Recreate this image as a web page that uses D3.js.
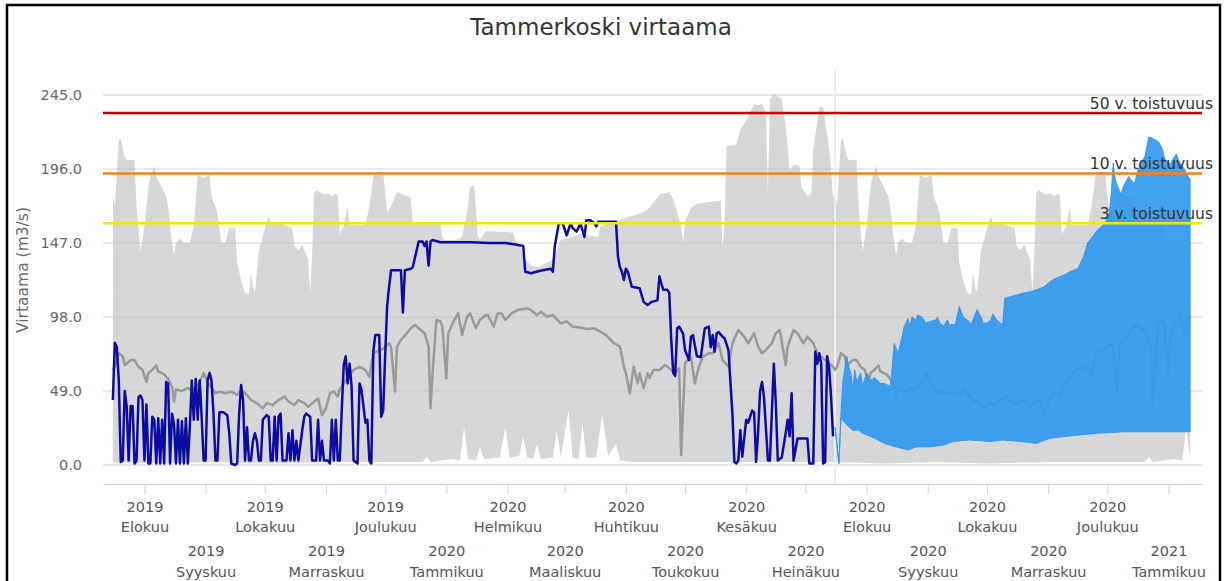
<!DOCTYPE html>
<html>
<head>
<meta charset="utf-8">
<script src="https://cdnjs.cloudflare.com/ajax/libs/d3/7.8.5/d3.min.js"></script>
<style>
  html, body { margin: 0; padding: 0; background: #fff; }
  svg { display: block; font-family: "DejaVu Sans", sans-serif; }
</style>
</head>
<body>
<div id="chart"></div>
<script>
// ---- data ----
const chartTitle = "Tammerkoski virtaama";
const yTitle = "Virtaama (m3/s)";
const yTicks = [0, 49, 98, 147, 196, 245];
const monthNames = ["Tammikuu", "Helmikuu", "Maaliskuu", "Huhtikuu", "Toukokuu", "Kesäkuu",
    "Heinäkuu", "Elokuu", "Syyskuu", "Lokakuu", "Marraskuu", "Joulukuu"];
const xStart = "2019-07-11", xEnd = "2021-01-18";
const firstTick = "2019-08-01", lastTick = "2021-01-01";
const todayDate = "2020-07-16";
const bandEnd = "2021-01-12";

const levelValues = [233, 193, 160];
const levelLabels = ["50 v. toistuvuus", "10 v. toistuvuus", "3 v. toistuvuus"];

// day-of-year statistics (month-day), repeated for each year shown
const climMax = [
    ["07-16",179],["07-17",172],["07-19",215],["07-20",216],["07-22",204],["07-23",202],["07-27",202],
    ["07-28",171],["07-30",141],["08-01",158],["08-03",184],["08-04",191],["08-06",198],["08-07",191],
    ["08-09",186],["08-12",178],["08-13",171],["08-15",147],["08-16",139],["08-17",147],["08-19",150],
    ["08-21",147],["08-24",147],["08-26",158],["08-28",192],["08-31",190],["09-03",192],["09-04",178],
    ["09-07",167],["09-09",147],["09-11",147],["09-13",157],["09-16",157],["09-17",134],["09-19",122],
    ["09-21",114],["09-23",113],["09-24",127],["09-25",118],["09-26",114],["09-28",142],["10-01",156],
    ["10-03",165],["10-04",160],["10-06",161],["10-15",157],["10-16",145],["10-18",142],["10-20",146],
    ["10-21",142],["10-23",136],["10-24",114],["10-25",140],["10-26",180],["10-27",182],["10-31",179],
    ["11-02",180],["11-04",178],["11-06",180],["11-07",178],["11-08",153],["11-10",158],["11-12",171],
    ["11-13",159],["11-21",159],["11-23",171],["11-25",191],["11-27",194],["11-30",194],["12-02",167],
    ["12-04",171],["12-07",181],["12-10",179],["12-14",177],["12-15",160],["12-29",160],["12-30",151],
    ["12-31",149],["01-06",149],["01-09",151],["01-12",171],["01-13",184],["01-15",185],["01-16",171],
    ["01-17",151],["01-18",149],["01-21",155],["02-04",154],["02-05",149],["02-07",145],["02-10",136],
    ["02-13",132],["02-17",131],["02-21",134],["02-24",136],["02-28",149],["03-05",151],["03-09",153],
    ["03-14",152],["03-18",151],["03-19",158],["04-02",164],["04-07",166],["04-12",169],["04-17",177],
    ["04-19",180],["04-22",180],["04-23",181],["04-25",176],["04-27",168],["04-29",158],["04-30",147],
    ["05-01",162],["05-04",170],["05-07",173],["05-12",174],["05-19",175],["05-20",144],["05-21",160],
    ["05-22",211],["05-27",212],["05-29",222],["06-01",228],["06-05",239],["06-07",238],["06-09",239],
    ["06-11",233],["06-12",180],["06-13",242],["06-15",246],["06-17",244],["06-19",242],["06-21",225],
    ["06-23",195],["06-25",199],["06-28",198],["06-29",184],["07-02",178],["07-04",180],["07-05",209],
    ["07-08",237],["07-10",237],["07-11",228],["07-13",210],["07-15",178]
];
const climMin = [
    ["07-16",2],["08-10",1],["09-05",2],["10-01",1],["11-01",2],["12-01",2],["12-20",2],["12-22",5.5],
    ["12-24",2],["01-04",4],["01-08",3],["01-10",25],["01-12",4],["01-16",3],["01-18",12],["01-20",4],
    ["01-28",5],["01-31",25],["02-02",5],["02-07",6],["02-09",19],["02-11",5],["02-14",4],["02-16",14],
    ["02-18",4],["02-24",5],["02-26",23],["02-28",5],["03-03",36],["03-05",5],["03-08",4],["03-10",27],
    ["03-12",5],["03-17",5],["03-20",34],["03-23",6],["03-27",14],["03-29",3],["04-05",2],["07-15",2]
];
const climMean = [
    ["07-16",63],["07-17",65],["07-19",74],["07-21",72],["07-22",66],["07-25",69.5],["07-27",69.5],
    ["07-29",65],["07-31",63],["08-02",55],["08-03",61],["08-05",63],["08-07",66],["08-08",62],
    ["08-11",60],["08-13",57],["08-15",52],["08-16",42],["08-17",50],["08-20",49],["08-23",51],
    ["08-24",50],["08-27",51],["08-29",55],["08-31",61],["09-02",55],["09-04",51],["09-06",47.5],
    ["09-08",48.6],["09-11",47.5],["09-14",48.6],["09-17",46.4],["09-19",49.7],["09-22",46.4],
    ["09-24",43],["09-27",41],["09-30",37.5],["10-02",41],["10-05",39.7],["10-08",43],["10-11",45.3],
    ["10-13",42],["10-16",39.7],["10-18",43],["10-21",41],["10-23",38.6],["10-26",42],["10-28",44],
    ["10-30",33],["11-01",37.5],["11-03",47.5],["11-05",48.6],["11-07",45.3],["11-08",50],["11-11",56],
    ["11-12",58],["11-15",63],["11-18",65],["11-21",63],["11-23",58.5],["11-25",74],["11-28",76],
    ["11-30",77],["12-03",80.6],["12-04",78],["12-06",48.6],["12-07",78.4],["12-09",82.8],["12-12",87.3],
    ["12-14",90.5],["12-16",92.7],["12-19",89.4],["12-21",87.3],["12-23",78.4],["12-24",37.5],
    ["12-25",60.7],["12-27",96],["12-29",95],["12-30",91.6],["01-01",57.4],["01-02",87.3],["01-05",96],
    ["01-07",100.4],["01-09",86],["01-11",96],["01-12",99],["01-13",100.4],["01-16",90.5],["01-18",96],
    ["01-21",99.3],["01-22",99.3],["01-25",91.6],["01-27",100.4],["01-29",100.4],["01-31",96],
    ["02-03",100.4],["02-06",102.6],["02-08",103.1],["02-11",103.7],["02-13",102.6],["02-16",99.3],
    ["02-18",101.5],["02-21",98.2],["02-24",99.3],["02-28",93.8],["03-02",95],["03-05",91.6],
    ["03-09",91],["03-12",90],["03-16",90.5],["03-19",88.3],["03-22",86],["03-26",80.6],["03-29",78.4],
    ["03-31",65],["04-01",60.7],["04-03",47.5],["04-05",65],["04-07",54],["04-08",60.7],["04-10",50.8],
    ["04-12",60.7],["04-13",57.4],["04-15",62.9],["04-18",62.9],["04-21",66.2],["04-23",64],
    ["04-26",60.7],["04-28",64],["04-29",6.6],["05-01",67.5],["05-04",71.7],["05-06",54],["05-08",65],
    ["05-10",71.7],["05-13",74],["05-15",74],["05-18",80.6],["05-20",69.5],["05-23",65],["05-25",80.6],
    ["05-28",89.4],["05-31",85],["06-02",80.6],["06-05",87.3],["06-07",78.4],["06-09",74],["06-11",76.2],
    ["06-14",80.6],["06-16",87.3],["06-18",89.4],["06-21",66.2],["06-22",78.4],["06-25",89.4],
    ["06-27",87.3],["06-30",80.6],["07-02",85],["07-05",80.6],["07-07",74],["07-09",71.7],
    ["07-12",68.4],["07-15",65]
];

const observed = [
    ["2019-07-16",43],["2019-07-17",81],["2019-07-18",78],["2019-07-19",56],["2019-07-20",2],
    ["2019-07-21",3],["2019-07-22",49],["2019-07-23",39],["2019-07-24",3],["2019-07-25",39],
    ["2019-07-26",39],["2019-07-27",1],["2019-07-28",3],["2019-07-29",45],["2019-07-30",46],
    ["2019-07-31",43],["2019-08-01",3],["2019-08-02",40],["2019-08-03",1],["2019-08-04",1],
    ["2019-08-05",32],["2019-08-06",30],["2019-08-07",1],["2019-08-08",31],["2019-08-09",1],
    ["2019-08-10",30],["2019-08-11",1],["2019-08-12",55],["2019-08-13",54],["2019-08-14",1],
    ["2019-08-15",34],["2019-08-16",27],["2019-08-17",1],["2019-08-18",30],["2019-08-19",1],
    ["2019-08-20",29],["2019-08-21",1],["2019-08-22",31],["2019-08-23",1],["2019-08-24",25],
    ["2019-08-25",56],["2019-08-26",30],["2019-08-27",57],["2019-08-28",30],["2019-08-29",56],
    ["2019-08-30",32],["2019-08-31",3],["2019-09-01",3],["2019-09-02",56],["2019-09-03",61],
    ["2019-09-04",56],["2019-09-05",34],["2019-09-06",3],["2019-09-07",3],["2019-09-08",35],
    ["2019-09-10",35],["2019-09-12",33],["2019-09-13",21],["2019-09-14",1],["2019-09-16",0],
    ["2019-09-17",1],["2019-09-18",34],["2019-09-19",53],["2019-09-20",43],["2019-09-21",3],
    ["2019-09-22",25],["2019-09-23",3],["2019-09-24",3],["2019-09-25",16],["2019-09-26",21],
    ["2019-09-27",16],["2019-09-28",3],["2019-09-29",3],["2019-09-30",30],["2019-10-02",33],
    ["2019-10-03",32],["2019-10-04",3],["2019-10-05",3],["2019-10-06",32],["2019-10-07",3],
    ["2019-10-08",32],["2019-10-09",34],["2019-10-10",3],["2019-10-12",3],["2019-10-13",21],
    ["2019-10-14",3],["2019-10-15",23],["2019-10-16",3],["2019-10-17",16],["2019-10-18",3],
    ["2019-10-20",23],["2019-10-21",32],["2019-10-22",34],["2019-10-24",32],["2019-10-25",3],
    ["2019-10-27",3],["2019-10-28",30],["2019-10-29",3],["2019-10-30",16],["2019-10-31",3],
    ["2019-11-02",3],["2019-11-03",1],["2019-11-04",30],["2019-11-05",3],["2019-11-06",30],
    ["2019-11-07",3],["2019-11-08",3],["2019-11-09",36],["2019-11-10",66],["2019-11-11",72],
    ["2019-11-12",54],["2019-11-13",67],["2019-11-14",52],["2019-11-15",3],["2019-11-17",1],
    ["2019-11-18",54],["2019-11-19",50],["2019-11-21",28],["2019-11-22",30],["2019-11-23",3],
    ["2019-11-24",1],["2019-11-25",75],["2019-11-26",86],["2019-11-28",86],["2019-11-29",32],
    ["2019-11-30",36],["2019-12-01",72],["2019-12-02",105],["2019-12-03",118],["2019-12-04",129],
    ["2019-12-09",129],["2019-12-10",101],["2019-12-11",129],["2019-12-14",130],["2019-12-15",131],
    ["2019-12-18",148],["2019-12-20",148],["2019-12-21",145],["2019-12-22",148],["2019-12-23",132],
    ["2019-12-24",148],["2019-12-25",149],["2019-12-29",147.5],["2020-01-06",147.5],["2020-01-14",147.5],
    ["2020-01-22",147],["2020-01-31",147],["2020-02-05",146],["2020-02-09",145],["2020-02-10",128],
    ["2020-02-13",127],["2020-02-17",128.5],["2020-02-21",129.5],["2020-02-23",130],["2020-02-24",128],
    ["2020-02-25",145],["2020-02-27",160],["2020-02-29",160],["2020-03-02",152],["2020-03-04",160],
    ["2020-03-05",157],["2020-03-07",154.5],["2020-03-09",160],["2020-03-11",151],["2020-03-12",162],
    ["2020-03-14",162],["2020-03-16",160],["2020-03-17",158],["2020-03-18",161],["2020-03-27",161],
    ["2020-03-28",138],["2020-03-29",131],["2020-03-30",128],["2020-03-31",122.5],["2020-04-01",130],
    ["2020-04-02",128],["2020-04-04",118],["2020-04-08",117],["2020-04-10",108],["2020-04-12",106],
    ["2020-04-14",108],["2020-04-17",109],["2020-04-18",125],["2020-04-19",120],["2020-04-20",116],
    ["2020-04-22",116],["2020-04-23",114],["2020-04-24",83],["2020-04-25",61],["2020-04-26",59],
    ["2020-04-27",90.5],["2020-04-28",91.6],["2020-04-30",87],["2020-05-01",76],["2020-05-03",69.5],
    ["2020-05-04",85],["2020-05-05",86],["2020-05-07",72],["2020-05-09",71.5],["2020-05-11",90.5],
    ["2020-05-13",91.6],["2020-05-14",78],["2020-05-15",86],["2020-05-16",75],["2020-05-17",87],
    ["2020-05-18",88],["2020-05-20",85],["2020-05-21",84],["2020-05-23",76],["2020-05-25",34],
    ["2020-05-26",2],["2020-05-27",1],["2020-05-28",3],["2020-05-29",23],["2020-05-30",5.5],
    ["2020-06-01",30],["2020-06-02",28],["2020-06-04",36],["2020-06-05",35],["2020-06-06",2],
    ["2020-06-07",21],["2020-06-08",48.6],["2020-06-09",55],["2020-06-10",45],["2020-06-12",3],
    ["2020-06-13",3],["2020-06-15",67],["2020-06-16",41],["2020-06-17",3],["2020-06-19",5],
    ["2020-06-21",21],["2020-06-22",30],["2020-06-23",19],["2020-06-24",47.5],["2020-06-25",3],
    ["2020-06-27",17.5],["2020-07-02",17.5],["2020-07-03",1],["2020-07-05",1],["2020-07-06",75],
    ["2020-07-07",67],["2020-07-08",74],["2020-07-09",67],["2020-07-10",1],["2020-07-11",2],
    ["2020-07-12",72],["2020-07-13",65],["2020-07-14",45],["2020-07-15",19]
];

const forecastHigh = [
    ["2020-07-16",25],["2020-07-18",1],["2020-07-19",34],["2020-07-20",56],["2020-07-22",72],
    ["2020-07-23",65],["2020-07-24",61],["2020-07-25",50],["2020-07-26",63],["2020-07-27",55],
    ["2020-07-29",61],["2020-07-30",52],["2020-08-01",61],["2020-08-03",56],["2020-08-05",58],
    ["2020-08-08",54],["2020-08-10",54],["2020-08-13",52],["2020-08-14",65],["2020-08-15",80.6],
    ["2020-08-17",74],["2020-08-19",85],["2020-08-20",91.6],["2020-08-22",97],["2020-08-23",91.6],
    ["2020-08-24",98],["2020-08-26",96],["2020-08-27",99.3],["2020-08-29",98],["2020-08-31",94],
    ["2020-09-02",95],["2020-09-05",96],["2020-09-06",98],["2020-09-07",94],["2020-09-09",92],
    ["2020-09-11",96],["2020-09-12",93],["2020-09-15",93],["2020-09-17",105],["2020-09-19",98],
    ["2020-09-22",95],["2020-09-23",93],["2020-09-26",103],["2020-09-28",98],["2020-09-29",94],
    ["2020-10-01",94],["2020-10-03",96],["2020-10-04",100],["2020-10-06",96],["2020-10-09",92.7],
    ["2020-10-10",110.4],["2020-10-13",111.5],["2020-10-16",112.6],["2020-10-19",113.7],["2020-10-23",114.8],
    ["2020-10-26",116],["2020-10-30",118],["2020-11-02",121.5],["2020-11-05",123.6],["2020-11-09",125.8],
    ["2020-11-12",128],["2020-11-16",130],["2020-11-19",138],["2020-11-21",147],["2020-11-24",152],
    ["2020-11-26",155.6],["2020-11-30",160],["2020-12-02",167],["2020-12-03",180],["2020-12-04",200],
    ["2020-12-05",189],["2020-12-07",182],["2020-12-08",179],["2020-12-09",184],["2020-12-11",189],
    ["2020-12-12",191],["2020-12-14",187],["2020-12-15",187],["2020-12-16",193],["2020-12-18",200],
    ["2020-12-20",204],["2020-12-22",217],["2020-12-23",217],["2020-12-27",214],["2020-12-29",209],
    ["2020-12-30",203],["2021-01-02",199],["2021-01-03",202],["2021-01-05",206],["2021-01-06",202],
    ["2021-01-08",198],["2021-01-09",196],["2021-01-11",191],["2021-01-12",189]
];
const forecastLow = [
    ["2020-07-16",25],["2020-07-18",1],["2020-07-19",31],["2020-07-22",26.5],["2020-07-25",23],
    ["2020-07-28",23],["2020-07-30",21],["2020-08-05",17.7],["2020-08-10",14.3],["2020-08-16",12],
    ["2020-08-22",10],["2020-08-26",12],["2020-09-02",12],["2020-09-09",13.2],["2020-09-14",15.5],
    ["2020-09-22",16.6],["2020-10-03",15.5],["2020-10-09",16.6],["2020-10-18",15.5],["2020-10-26",14.3],
    ["2020-11-02",17.7],["2020-11-09",18.8],["2020-11-17",19.9],["2020-11-26",21],["2020-12-04",21.5],
    ["2020-12-09",22],["2020-12-29",22],["2021-01-12",22]
];

// ---- styles ----
const levelColors = ["#c40000", "#ff8010", "#ffe400"];
const colors = { band: "#c2c2c2", mean: "#9a9a9a", observed: "#0c0ca2", forecast: "#2f97f1",
    grid: "#d3d3d3", axis: "#ccd6eb", today: "#eeeeee", text: "#666" };

// ---- layout ----
const width = 1229, height = 581;
const plot = { left: 103, right: 1202, top: 70, bottom: 484 };

const parseDay = d3.timeParse("%Y-%m-%d");
const x = d3.scaleTime()
    .domain([parseDay(xStart), parseDay(xEnd)])
    .range([plot.left, plot.right]);
const y = d3.scaleLinear()
    .domain([0, 245])
    .range([465, 95]);

function onCycles(pairs) {
    const out = [];
    const last = parseDay(bandEnd);
    [2019, 2020].forEach(y0 => {
        pairs.forEach(([md, v]) => {
            const date = parseDay(`${md >= "07-16" ? y0 : y0 + 1}-${md}`);
            if (date <= last) out.push([date, v]);
        });
    });
    return out.sort((a, b) => a[0] - b[0]);
}
const dated = pairs => pairs.map(([s, v]) => [parseDay(s), v]);

const bandTop = onCycles(climMax);
const bandBottom = onCycles(climMin);
const meanLine = onCycles(climMean);
const obsLine = dated(observed);
const fcTop = dated(forecastHigh);
const fcBottom = dated(forecastLow);

const line = d3.line().x(d => x(d[0])).y(d => y(d[1]));
const ring = (top, bottom) => line(top.concat(bottom.slice().reverse())) + "Z";

const svg = d3.select("#chart")
    .append("svg")
    .attr("width", width)
    .attr("height", height)
    .attr("viewBox", [0, 0, width, height]);

// frame
svg.append("rect")
    .attr("x", 7).attr("y", 5)
    .attr("width", 1213).attr("height", 640)
    .attr("fill", "none")
    .attr("stroke", "#000")
    .attr("stroke-width", 2.5);

// title
svg.append("text")
    .attr("x", 601).attr("y", 35)
    .attr("text-anchor", "middle")
    .attr("fill", "#333")
    .style("font-size", "23px")
    .text(chartTitle);

// grid
svg.append("g")
    .selectAll("line")
    .data(yTicks)
    .join("line")
    .attr("x1", plot.left).attr("x2", plot.right)
    .attr("y1", d => y(d)).attr("y2", d => y(d))
    .attr("stroke", colors.grid)
    .attr("stroke-width", 1);

// min-max band
svg.append("path")
    .attr("d", ring(bandTop, bandBottom))
    .attr("fill", colors.band)
    .attr("fill-opacity", 0.65);

// today marker
svg.append("line")
    .attr("x1", x(parseDay(todayDate))).attr("x2", x(parseDay(todayDate)))
    .attr("y1", plot.top).attr("y2", plot.bottom)
    .attr("stroke", colors.today)
    .attr("stroke-width", 2);

// mean line
svg.append("path")
    .attr("d", line(meanLine))
    .attr("fill", "none")
    .attr("stroke", colors.mean)
    .attr("stroke-width", 2.5)
    .attr("stroke-linejoin", "round");

// observed
svg.append("path")
    .attr("d", line(obsLine))
    .attr("fill", "none")
    .attr("stroke", colors.observed)
    .attr("stroke-width", 2.5)
    .attr("stroke-linejoin", "round");

// forecast range
svg.append("path")
    .attr("d", ring(fcTop, fcBottom))
    .attr("fill", colors.forecast)
    .attr("fill-opacity", 0.9)
    .attr("stroke", colors.forecast)
    .attr("stroke-opacity", 0.9)
    .attr("stroke-width", 1);

// return period levels
const levels = svg.append("g");
levels.selectAll("line")
    .data(levelValues)
    .join("line")
    .attr("x1", plot.left).attr("x2", plot.right)
    .attr("y1", d => y(d)).attr("y2", d => y(d))
    .attr("stroke", (d, i) => levelColors[i])
    .attr("stroke-width", 2.5);
levels.selectAll("text")
    .data(levelValues)
    .join("text")
    .attr("x", 1213)
    .attr("y", d => y(d) - 4.5)
    .attr("text-anchor", "end")
    .attr("fill", "#333")
    .style("font-size", "15.5px")
    .text((d, i) => levelLabels[i]);

// y axis
const yAxis = svg.append("g")
    .attr("transform", `translate(${plot.left},0)`)
    .call(d3.axisLeft(y).tickValues(yTicks).tickSize(0).tickPadding(21).tickFormat(d3.format(".1f")))
    .attr("font-family", null)
    .attr("font-size", null);
yAxis.select(".domain").remove();
yAxis.selectAll("text").attr("fill", colors.text).style("font-size", "14.5px");

svg.append("text")
    .attr("transform", "translate(28,270) rotate(-90)")
    .attr("text-anchor", "middle")
    .attr("fill", colors.text)
    .style("font-size", "15.5px")
    .text(yTitle);

// x axis
const months = d3.timeMonth.range(parseDay(firstTick), d3.timeDay.offset(parseDay(lastTick), 1));
const xAxis = svg.append("g")
    .attr("transform", `translate(0,${plot.bottom})`)
    .call(d3.axisBottom(x).tickValues(months).tickSize(10).tickSizeOuter(0).tickFormat(""))
    .attr("font-family", null)
    .attr("font-size", null);
xAxis.select(".domain").attr("stroke", colors.axis);
xAxis.selectAll(".tick line").attr("stroke", colors.axis);
xAxis.selectAll(".tick text").remove();
xAxis.selectAll(".tick").each(function (d, i) {
    const row = i % 2;
    const t = d3.select(this).append("text")
        .attr("text-anchor", "middle")
        .attr("fill", "#555")
        .style("font-size", "14.5px");
    t.append("tspan").attr("x", 0).attr("y", row ? 72 : 28).text(d.getFullYear());
    t.append("tspan").attr("x", 0).attr("y", row ? 93 : 48).text(monthNames[d.getMonth()]);
});
</script>
</body>
</html>
